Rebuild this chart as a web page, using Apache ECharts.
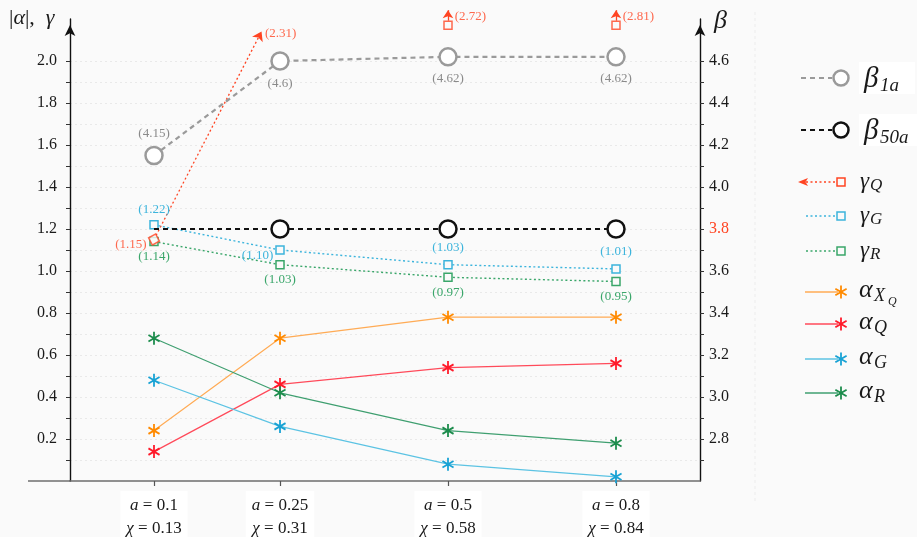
<!DOCTYPE html>
<html>
<head>
<meta charset="utf-8">
<script src="https://cdn.jsdelivr.net/npm/echarts@6/dist/echarts.min.js"></script>
<style>
  html, body { margin: 0; padding: 0; background: #fafafa; }
  #chart { width: 917px; height: 537px; }
</style>
</head>
<body>
<div id="chart"></div>
<script>
// ---- data ---------------------------------------------------------------
// horizontal position of each sampled configuration
const xPos = [0.5, 1.25, 2.25, 3.25];
const aValues = ['0.1', '0.25', '0.5', '0.8'];
const chiValues = ['0.13', '0.31', '0.58', '0.84'];

// β, read on the right axis
const beta1a = [4.15, 4.6, 4.62, 4.62];
const beta50a = [3.8, 3.8, 3.8, 3.8];

// γ, read on the left axis
const gammaQ = [1.15, 2.31, 2.72, 2.81];
const gammaG = [1.22, 1.10, 1.03, 1.01];
const gammaR = [1.14, 1.03, 0.97, 0.95];

// |α|, read on the left axis
const alphaXQ = [0.24, 0.68, 0.78, 0.78];
const alphaQ = [0.14, 0.46, 0.54, 0.56];
const alphaG = [0.48, 0.26, 0.08, 0.02];
const alphaR = [0.68, 0.42, 0.24, 0.18];

// axis ticks and labels
const leftLabels = [0.2, 0.4, 0.6, 0.8, 1.0, 1.2, 1.4, 1.6, 1.8, 2.0];
const leftTicks = [0.1, 0.2, 0.3, 0.4, 0.5, 0.6, 0.7, 0.8, 0.9, 1.0,
                   1.1, 1.2, 1.3, 1.4, 1.5, 1.6, 1.7, 1.8, 1.9, 2.0];
const rightLabels = [2.8, 3.0, 3.2, 3.4, 3.6, 3.8, 4.0, 4.2, 4.4, 4.6];
const rightTicks = [2.7, 2.8, 2.9, 3.0, 3.1, 3.2, 3.3, 3.4, 3.5, 3.6,
                    3.7, 3.8, 3.9, 4.0, 4.1, 4.2, 4.3, 4.4, 4.5, 4.6];
const highlightBeta = 3.8;

// ---- styling ------------------------------------------------------------
const SERIF = '"Liberation Serif", "DejaVu Serif", serif';
const BG = '#fafafa';
const C = {
  beta1a: '#9a9a9a', beta50a: '#111111',
  gQ: '#ff4422', gG: '#3cb4dc', gR: '#3aa66a',
  aXQline: '#ffab55', aXQ: '#ff8a00',
  aQline: '#ff4a5a', aQ: '#ff1a2a',
  aGline: '#5cc3e3', aG: '#18a2d4',
  aRline: '#3f9f70', aR: '#1c8c4c'
};
const GRID = { left: 70, right: 217, top: 19, bottom: 56 };
const LEFT_MAX = 2.2;        // top of the |α|, γ axis
const RISE_CAP = 2.14;       // where a rising γ segment leaves the plot
const OUT_MARK = 2.17;       // level of the marker for an off-scale γ value

// six-armed asterisk: three thin bars through a common centre
function asteriskBars(cx, cy, L, w) {
  return [90, 30, 150].map(function (deg) {
    const t = deg * Math.PI / 180, dx = Math.cos(t), dy = Math.sin(t);
    const nx = -dy, ny = dx;
    return [
      [cx + L * dx + w * nx, cy + L * dy + w * ny],
      [cx + L * dx - w * nx, cy + L * dy - w * ny],
      [cx - L * dx - w * nx, cy - L * dy - w * ny],
      [cx - L * dx + w * nx, cy - L * dy + w * ny]
    ];
  });
}
const ASTERISK = 'path://' + asteriskBars(10, 10, 10, 1.4).map(function (b) {
  return 'M' + b.map(p => p[0].toFixed(2) + ' ' + p[1].toFixed(2)).join(' L') + ' Z';
}).join(' ');

const pts = arr => arr.map((v, i) => [xPos[i], v]);
const paren = v => '(' + v + ')';
const paren2 = v => '(' + v.toFixed(2) + ')';

function alphaSeries(name, values, lineColor, markColor) {
  return {
    name: name, type: 'line', yAxisIndex: 0, z: 3,
    data: pts(values),
    symbol: ASTERISK, symbolSize: [12, 13],
    itemStyle: { color: markColor },
    lineStyle: { color: lineColor, width: 1.2 },
    label: { show: false }
  };
}

function gammaSeries(name, values, color, positions) {
  return {
    name: name, type: 'line', yAxisIndex: 0, z: 4,
    data: values.map((v, i) => ({ value: [xPos[i], v], label: positions[i] })),
    symbol: 'rect', symbolSize: 8,
    itemStyle: { color: BG, borderColor: color, borderWidth: 1.5 },
    lineStyle: { color: color, width: 1.4, type: [2, 2.5] },
    label: {
      show: true, color: color, fontSize: 13, fontFamily: SERIF, distance: 4,
      formatter: p => paren2(p.value[1])
    }
  };
}

// γ_Q: in-range points get a square, the first off-scale step rises
// out of the plot with an arrow, later off-scale points sit at the top
// with an upward arrow; every off-scale point keeps its true value as label.
const gQMarks = [];
const gQRise = [];
const gQUp = [];
gammaQ.forEach(function (v, i) {
  if (v <= LEFT_MAX) {
    gQMarks.push({
      value: [xPos[i], v], symbolRotate: 28,
      label: { position: 'left', offset: [3, 5], formatter: paren2(v) }
    });
  } else if (i > 0 && gammaQ[i - 1] <= LEFT_MAX) {
    const v0 = gammaQ[i - 1];
    const t = (RISE_CAP - v0) / (v - v0);
    const xEnd = xPos[i - 1] + t * (xPos[i] - xPos[i - 1]);
    gQRise.push({ coords: [[xPos[i - 1], v0], [xEnd, RISE_CAP]] });
    gQMarks.push({
      value: [xEnd, RISE_CAP], symbol: 'circle', symbolSize: 1,
      itemStyle: { color: 'rgba(0,0,0,0)', borderWidth: 0 },
      label: { position: 'right', offset: [-1, 2], formatter: paren2(v) }
    });
  } else {
    gQMarks.push({
      value: [xPos[i], OUT_MARK],
      label: { position: 'right', offset: [-2, -9], formatter: paren2(v) }
    });
    gQUp.push({ coords: [[xPos[i], OUT_MARK + 0.022], [xPos[i], OUT_MARK + 0.072]] });
  }
});

// ---- legend drawn at the right ------------------------------------------
function legendLine(y, color, dash, width, x0, x1) {
  return { type: 'line', shape: { x1: x0, y1: y, x2: x1, y2: y },
           style: { stroke: color, lineWidth: width, lineDash: dash }, silent: true };
}
function plainText(x, y, text, font) {
  return { type: 'text', x: x, y: y, silent: true,
           style: { text: text, font: font, fill: '#1a1a1a', verticalAlign: 'middle', align: 'left' } };
}
function asteriskGlyph(x, y, color) {
  return asteriskBars(x, y, 6.5, 0.9).map(function (b) {
    return { type: 'polygon', shape: { points: b }, style: { fill: color }, silent: true };
  });
}

const legend = [];
// β rows
[[78, C.beta1a, '1a', 56], [130, C.beta50a, '50a', 58]].forEach(function (r) {
  legend.push({ type: 'rect', shape: { x: 859, y: r[0] - 16, width: r[3], height: 32 },
                style: { fill: '#ffffff' }, silent: true });
  legend.push(legendLine(r[0], r[1], [5, 4], 2.2, 801, 832));
  legend.push({ type: 'circle', shape: { cx: 841, cy: r[0], r: 7.5 },
                style: { fill: '#ffffff', stroke: r[1], lineWidth: 2.5 }, silent: true });
  legend.push(plainText(864, r[0] + 1, 'β', 'italic 29px ' + SERIF));
  legend.push(plainText(880, r[0] + 8, r[2], 'italic 19px ' + SERIF));
});
// γ rows
[[182, C.gQ, 'Q', true], [216, C.gG, 'G', false], [251, C.gR, 'R', false]].forEach(function (r) {
  legend.push(legendLine(r[0], r[1], [2, 2.5], 1.3, 806, 836));
  if (r[3]) {
    legend.push({ type: 'polygon', shape: { points: [[798, r[0]], [808, r[0] - 4], [805.5, r[0]], [808, r[0] + 4]] },
                  style: { fill: r[1] }, silent: true });
  }
  legend.push({ type: 'rect', shape: { x: 837, y: r[0] - 4, width: 8, height: 8 },
                style: { fill: BG, stroke: r[1], lineWidth: 1.5 }, silent: true });
  legend.push(plainText(860, r[0], 'γ', 'italic 23px ' + SERIF));
  legend.push(plainText(870, r[0] + 4, r[2], 'italic 17px ' + SERIF));
});
// α rows
[[292, C.aXQline, C.aXQ, 'X', true], [324, C.aQline, C.aQ, 'Q', false],
 [359, C.aGline, C.aG, 'G', false], [393, C.aRline, C.aR, 'R', false]].forEach(function (r) {
  legend.push(legendLine(r[0], r[1], null, 1.4, 805, 838));
  Array.prototype.push.apply(legend, asteriskGlyph(841, r[0], r[2]));
  legend.push(plainText(859, r[0] - 2, 'α', 'italic 26px ' + SERIF));
  legend.push(plainText(874, r[0] + 4, r[3], 'italic 18px ' + SERIF));
  if (r[4]) legend.push(plainText(888, r[0] + 10, 'Q', 'italic 12px ' + SERIF));
});

// ---- chart --------------------------------------------------------------
const chart = echarts.init(document.getElementById('chart'));
const axisBottom = 537 - GRID.bottom;

chart.setOption({
  backgroundColor: BG,
  animation: false,
  grid: Object.assign({ outerBoundsMode: 'none', containLabel: false }, GRID),
  xAxis: {
    type: 'value', min: 0, max: 3.75,
    axisLine: { show: true, onZero: false, lineStyle: { color: '#6e6e6e', width: 1.6 } },
    axisTick: { show: true, customValues: xPos, length: 5, lineStyle: { color: '#555', width: 1.2 } },
    axisLabel: {
      customValues: xPos, margin: 10, color: '#1a1a1a', fontSize: 17, fontFamily: SERIF,
      lineHeight: 23, backgroundColor: '#ffffff', padding: [3, 6, 6, 6],
      formatter: function (v) {
        let i = 0;
        xPos.forEach((p, k) => { if (Math.abs(p - v) < 1e-9) i = k; });
        return '{i|a} = ' + aValues[i] + '\n{i|χ} = ' + chiValues[i];
      },
      rich: { i: { fontStyle: 'italic', fontSize: 17, fontFamily: SERIF, color: '#1a1a1a', lineHeight: 23 } }
    },
    splitLine: { show: false }
  },
  yAxis: [
    {
      type: 'value', position: 'left', min: 0, max: LEFT_MAX, interval: 0.1,
      axisLine: { show: true, onZero: false, symbol: ['none', 'arrow'], symbolSize: [8, 11],
                  symbolOffset: [0, -6], lineStyle: { color: '#111', width: 1.4 } },
      axisTick: { show: true, customValues: leftTicks, length: 4, lineStyle: { color: '#333' } },
      axisLabel: { customValues: leftLabels, formatter: v => v.toFixed(1), color: '#1a1a1a',
                   fontSize: 16, fontFamily: SERIF, margin: 13 },
      splitLine: { show: true, lineStyle: { color: '#e9e9e9', type: [2, 3], width: 1 } }
    },
    {
      type: 'value', position: 'right', min: 2.6, max: 4.8, interval: 0.1,
      axisLine: { show: true, onZero: false, symbol: ['none', 'arrow'], symbolSize: [8, 11],
                  symbolOffset: [0, -6], lineStyle: { color: '#111', width: 1.4 } },
      axisTick: { show: true, customValues: rightTicks, length: 4, lineStyle: { color: '#333' } },
      axisLabel: {
        customValues: rightLabels, color: '#1a1a1a', fontSize: 16, fontFamily: SERIF, margin: 9,
        formatter: v => Math.abs(v - highlightBeta) < 1e-9 ? '{r|' + v.toFixed(1) + '}' : v.toFixed(1),
        rich: { r: { color: C.gQ, fontSize: 16, fontFamily: SERIF } }
      },
      splitLine: { show: false }
    }
  ],
  series: [
    alphaSeries('αXQ', alphaXQ, C.aXQline, C.aXQ),
    alphaSeries('αQ', alphaQ, C.aQline, C.aQ),
    alphaSeries('αG', alphaG, C.aGline, C.aG),
    alphaSeries('αR', alphaR, C.aRline, C.aR),
    gammaSeries('γG', gammaG, C.gG, [
      { position: 'top' }, { position: 'left', offset: [2, 6] }, { position: 'top', distance: 6 }, { position: 'top', distance: 6 }
    ]),
    gammaSeries('γR', gammaR, C.gR, [
      { position: 'bottom' }, { position: 'bottom' }, { position: 'bottom' }, { position: 'bottom' }
    ]),
    {
      name: 'γQ rise', type: 'lines', coordinateSystem: 'cartesian2d', xAxisIndex: 0, yAxisIndex: 0,
      z: 4, clip: false, silent: true,
      data: gQRise,
      symbol: ['none', 'arrow'], symbolSize: 9,
      lineStyle: { color: C.gQ, width: 1.3, type: [2, 2.5], opacity: 1, curveness: 0 }
    },
    {
      name: 'γQ up', type: 'lines', coordinateSystem: 'cartesian2d', xAxisIndex: 0, yAxisIndex: 0,
      z: 4, clip: false, silent: true,
      data: gQUp,
      symbol: ['none', 'arrow'], symbolSize: 8,
      lineStyle: { color: C.gQ, width: 1.3, opacity: 1, curveness: 0 }
    },
    {
      name: 'γQ', type: 'scatter', yAxisIndex: 0, z: 5, clip: false,
      data: gQMarks,
      symbol: 'rect', symbolSize: 8,
      itemStyle: { color: BG, borderColor: C.gQ, borderWidth: 1.5 },
      label: { show: true, color: C.gQ, fontSize: 13, fontFamily: SERIF, distance: 4 }
    },
    {
      name: 'β50a', type: 'line', yAxisIndex: 1, z: 6,
      data: beta50a.map((v, i) => i === 0 ? { value: [xPos[i], v], symbol: 'none' } : [xPos[i], v]),
      symbol: 'circle', symbolSize: 17,
      itemStyle: { color: '#ffffff', borderColor: C.beta50a, borderWidth: 2.5 },
      lineStyle: { color: C.beta50a, width: 2.2, type: [5, 4] },
      label: { show: false }
    },
    {
      name: 'β1a', type: 'line', yAxisIndex: 1, z: 6,
      data: beta1a.map((v, i) => ({ value: [xPos[i], v], label: { position: i === 0 ? 'top' : 'bottom' } })),
      symbol: 'circle', symbolSize: 17,
      itemStyle: { color: '#ffffff', borderColor: C.beta1a, borderWidth: 2.5 },
      lineStyle: { color: C.beta1a, width: 2.2, type: [5, 4] },
      label: { show: true, color: '#8a8a8a', fontSize: 13, fontFamily: SERIF, distance: 6,
               formatter: p => paren(p.value[1]) }
    }
  ],
  graphic: [
    // horizontal axis runs on a little to the left of the |α|, γ axis
    { type: 'line', silent: true, shape: { x1: 28, y1: axisBottom, x2: GRID.left, y2: axisBottom },
      style: { stroke: '#6e6e6e', lineWidth: 1.6 } },
    // axis titles
    { type: 'text', x: 9, y: 18, silent: true,
      style: { text: '{u||}{i|α}{u||,}  {i|γ}', verticalAlign: 'middle', font: '22px ' + SERIF, fill: '#1a1a1a',
        rich: { u: { fontSize: 22, fontFamily: SERIF, fill: '#1a1a1a' },
                i: { fontSize: 22, fontFamily: SERIF, fontStyle: 'italic', fill: '#1a1a1a' } } } },
    plainText(714, 21, 'β', 'italic 26px ' + SERIF),
    // separator between plot and legend
    { type: 'line', silent: true, shape: { x1: 755, y1: 12, x2: 755, y2: 502 },
      style: { stroke: '#ececec', lineWidth: 1, lineDash: [3, 3] } }
  ].concat(legend)
});
</script>
</body>
</html>
